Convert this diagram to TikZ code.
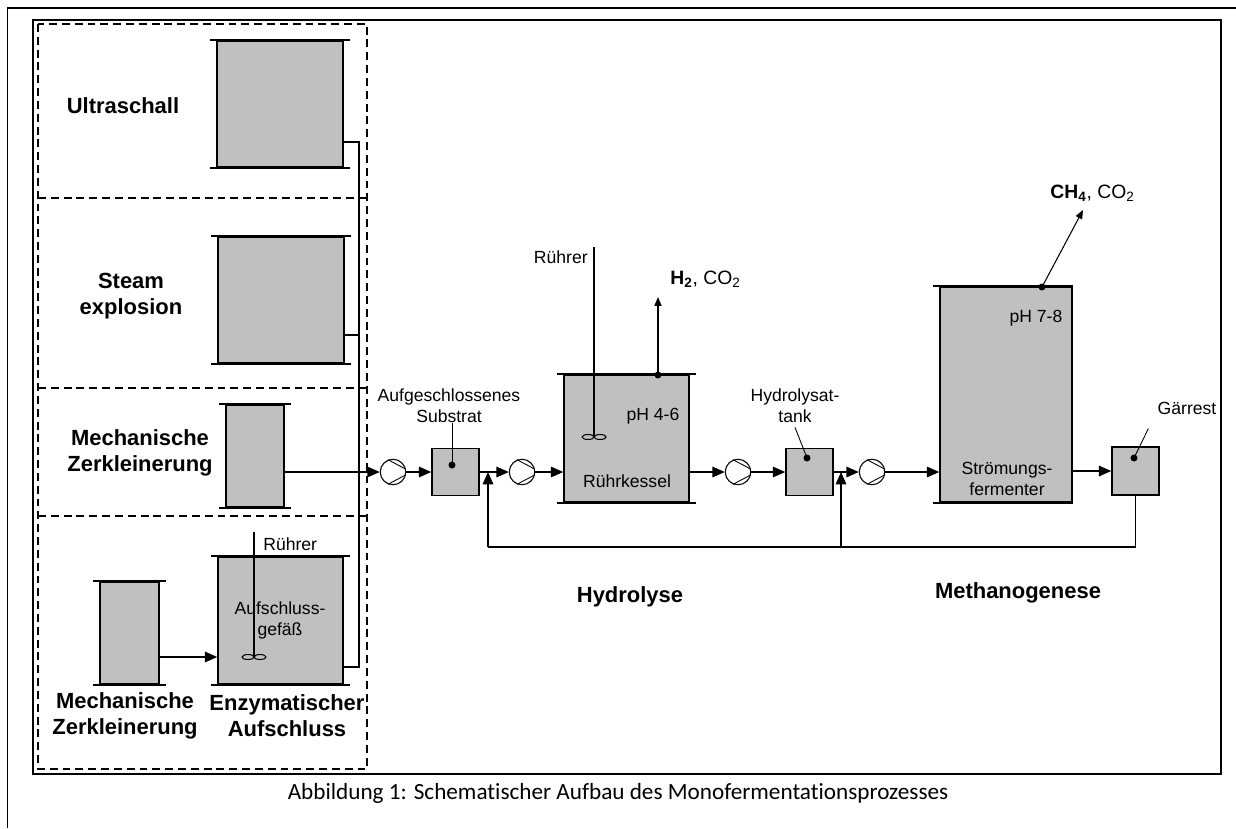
\documentclass[tikz,border=0pt]{standalone}
\usepackage{fontspec}
\setmainfont{Liberation Sans}
\newfontfamily\capfont[Ligatures=NoCommon]{Carlito}
\usetikzlibrary{arrows.meta, positioning, calc}
\definecolor{tankgray}{HTML}{C0C0C0}

% top and bottom rim of a vessel
\newcommand{\rims}[1]{%
  \draw[line width=0.9pt] ([xshift=-0.13cm]#1.north west) -- ([xshift=0.13cm]#1.north east);
  \draw[line width=0.9pt] ([xshift=-0.13cm]#1.south west) -- ([xshift=0.13cm]#1.south east);}
% inner strokes of a pump symbol
\newcommand{\pumplines}[1]{%
  \draw[line width=0.5pt] (#1.112) -- (#1.12);
  \draw[line width=0.5pt] (#1.248) -- (#1.-12);}

\begin{document}
\begin{tikzpicture}[x=0.02cm, y=-0.02cm,
    vessel/.style={draw, fill=tankgray, line width=0.9pt, inner sep=0pt},
    pumpnode/.style={draw, circle, fill=white, minimum size=0.51cm, inner sep=0pt, line width=0.6pt},
    flow/.style={line width=0.7pt, -{Triangle[length=7pt, width=6pt]}},
    pipe/.style={line width=0.7pt},
    gas/.style={line width=0.6pt, -{Triangle[length=5pt, width=4pt]}},
    region/.style={line width=0.7pt, dash pattern=on 4.5pt off 2.8pt},
    bigtext/.style={font=\fontsize{12.5}{14.8}\selectfont\bfseries, align=center, inner sep=0pt},
    smalltext/.style={font=\fontsize{10}{12}\selectfont, align=center, inner sep=0pt},
    gastext/.style={font=\fontsize{11}{13}\selectfont, inner sep=0pt},
  ]
    \useasboundingbox (0,0) rectangle (1236,828);
    % Frames
    \draw[line width=1.1pt] (7.5,828) -- (7.5,8) -- (1236,8);
    \draw[line width=1.1pt] (33,20) rectangle (1221,774);
    % Pretreatment regions
    \draw[region] (38,24) rectangle (367,769);
    \foreach \dy in {198,388,516} {
      \draw[region] (38,\dy) -- (367,\dy);
    }
    % Pretreatment vessels
    \node[vessel, minimum width=2.52cm, minimum height=2.52cm] (us) at (280,104) {};
    \node[vessel, minimum width=2.52cm, minimum height=2.52cm] (se) at (281,300) {};
    \node[vessel, minimum width=1.16cm, minimum height=2.04cm] (mz1) at (255,456) {};
    \node[vessel, minimum width=2.5cm, minimum height=2.54cm] (ea) at (280.5,620.5) {};
    \node[vessel, minimum width=1.18cm, minimum height=2.04cm] (mz2) at (129.5,633) {};
    \rims{us} \rims{se} \rims{mz1} \rims{ea} \rims{mz2}
    \node[bigtext] (uslbl) at (123,106) {Ultraschall};
    \node[bigtext] (selbl) at (131,296) {Steam\\explosion};
    \node[bigtext] (mz1lbl) at (140,453) {Mechanische\\Zerkleinerung};
    \node[bigtext] (mz2lbl) at (125,716) {Mechanische\\Zerkleinerung};
    \node[bigtext] (ealbl) at (287,716) {Enzymatischer\\Aufschluss};
    \node[smalltext] (eainner) at (280,620) {Aufschluss-\\gef\"a\ss};
    % Stirrer of the digestion vessel
    \coordinate (eashaft) at (254,532);
    \coordinate (eaimp) at (254,657);
    \draw[pipe] (eashaft) -- (eaimp);
    \draw[line width=0.6pt] (248,657) ellipse [x radius=0.12cm, y radius=0.05cm];
    \draw[line width=0.6pt] (260,657) ellipse [x radius=0.12cm, y radius=0.05cm];
    \node[smalltext, anchor=west] (earuehr) at (263,544) {R\"uhrer};
    \draw[flow] (mz2.east |- eaimp) -- (ea.west |- eaimp);
    % Collector line
    \coordinate (coltop) at (359,142);
    \coordinate (colse) at (359,335);
    \coordinate (colbot) at (359,667);
    \draw[pipe] (us.east |- coltop) -- (coltop) -- (colbot) -- (ea.east |- colbot);
    \draw[pipe] (se.east |- colse) -- (colse);
    % Main line
    \node[pumpnode] (p1) at (393,472) {};
    \node[vessel, minimum size=0.94cm] (sb) at (455.5,472) {};
    \node[pumpnode] (p2) at (522,472) {};
    \node[vessel, minimum width=2.5cm, minimum height=2.54cm] (rk) at (626.5,438.5) {};
    \node[pumpnode] (p3) at (738,472) {};
    \node[vessel, minimum size=0.94cm] (ht) at (809.5,472) {};
    \node[pumpnode] (p4) at (872,472) {};
    \node[vessel, minimum width=2.64cm, minimum height=4.3cm] (sf) at (1006,394.5) {};
    \node[vessel, minimum width=0.94cm, minimum height=0.96cm] (gr) at (1135.5,471) {};
    \rims{rk}
    \draw[line width=0.9pt] ([xshift=-0.13cm]sf.north west) -- (sf.north east);
    \draw[line width=0.9pt] ([xshift=-0.13cm]sf.south west) -- (sf.south east);
    \foreach \pp in {p1,p2,p3,p4} {
      \pumplines{\pp}
    }
    \draw[flow] (mz1.east |- p1) -- (p1);
    \draw[flow] (p1) -- (sb);
    \draw[flow] (sb) -- (p2);
    \draw[flow] (p2) -- (rk.west |- p2);
    \draw[flow] (rk.east |- p3) -- (p3);
    \draw[flow] (p3) -- (ht);
    \draw[flow] (ht) -- (p4);
    \draw[flow] (p4) -- (sf.west |- p4);
    \draw[flow] (sf.east |- gr) -- (gr);
    % Recycle
    \coordinate (backa) at (488,547);
    \coordinate (joina) at (488,472);
    \coordinate (backb) at (841,547);
    \coordinate (joinb) at (841,472);
    \draw[pipe] (gr.south) |- (backa);
    \draw[flow] (backa) -- (joina);
    \draw[flow] (backb) -- (joinb);
    % Stirred tank
    \coordinate (rkshaft) at (594,247);
    \coordinate (rkimp) at (594,437);
    \draw[pipe] (rkshaft) -- (rkimp);
    \draw[line width=0.6pt] (588,437) ellipse [x radius=0.12cm, y radius=0.05cm];
    \draw[line width=0.6pt] (600,437) ellipse [x radius=0.12cm, y radius=0.05cm];
    \node[smalltext, anchor=east] (rkruehr) at (588,257) {R\"uhrer};
    \node[smalltext] (rkph) at (653,416) {pH 4-6};
    \node[smalltext] (rklbl) at (627,481) {R\"uhrkessel};
    \coordinate (rkvent) at (658,375);
    \coordinate (rkgas) at (658,297);
    \fill (rkvent) circle[radius=0.07cm];
    \draw[gas] (rkvent) -- (rkgas);
    \node[gastext, anchor=west] (h2) at (670,279) {\textbf{H\textsubscript{2}}, CO\textsubscript{2}};
    % Fermenter
    \node[smalltext] (sfph) at (1036,318) {pH 7-8};
    \node[smalltext] (sflbl) at (1007,479) {Str\"omungs-\\fermenter};
    \coordinate (sfvent) at (1042,287);
    \coordinate (sfgas) at (1083,210);
    \fill (sfvent) circle[radius=0.07cm];
    \draw[gas] (sfvent) -- (sfgas);
    \node[gastext, anchor=west] (ch4) at (1050,193) {\textbf{CH\textsubscript{4}}, CO\textsubscript{2}};
    % Leader labels
    \node[smalltext] (sblbl) at (449,406) {Aufgeschlossenes\\Substrat};
    \node[smalltext] (htlbl) at (795,406) {Hydrolysat-\\tank};
    \node[smalltext] (grlbl) at (1187,408) {G\"arrest};
    \coordinate (sbdot) at (452,465);
    \coordinate (htdot) at (807,458);
    \coordinate (grdot) at (1134,458);
    \foreach \dd in {sbdot,htdot,grdot} {
      \fill (\dd) circle[radius=0.07cm];
    }
    \draw[line width=0.5pt] (sbdot) -- (sbdot |- sblbl.south);
    \draw[line width=0.5pt] (htdot) -- ([yshift=-0.08cm]htlbl.south);
    \draw[line width=0.5pt] (grdot) -- ([shift={(-9,14)}]grlbl.south west);
    % Stage titles
    \node[bigtext] (hydro) at (630,597) {Hydrolyse};
    \node[bigtext] (metha) at (1018,593) {Methanogenese};
    % Caption
    \node[font=\capfont\fontsize{13.2}{15}\selectfont, inner sep=0pt] (caption) at (618,793)
      {Abbildung 1: Schematischer Aufbau des Monofermentationsprozesses};
  \end{tikzpicture}
\end{document}
